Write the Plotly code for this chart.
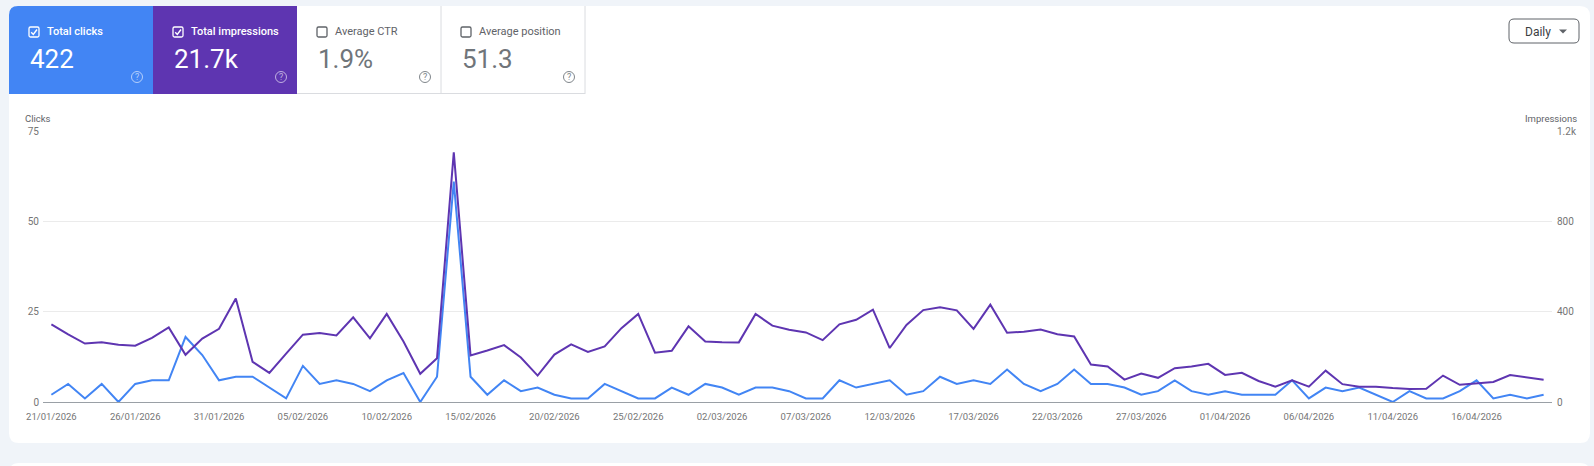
import pandas as pd
from plotly import graph_objs as go

# daily performance, 21/01/2026 .. 20/04/2026
START_DATE = "2026-01-21"
clicks = [
    2, 5, 1, 5, 0, 5, 6, 6, 18, 13, 6, 7, 7, 4, 1, 10, 5, 6, 5, 3,
    6, 8, 0, 7, 61, 7, 2, 6, 3, 4, 2, 1, 1, 5, 3, 1, 1, 4, 2, 5,
    4, 2, 4, 4, 3, 1, 1, 6, 4, 5, 6, 2, 3, 7, 5, 6, 5, 9, 5, 3,
    5, 9, 5, 5, 4, 2, 3, 6, 3, 2, 3, 2, 2, 2, 6, 1, 4, 3, 4, 2,
    0, 3, 1, 1, 3, 6, 1, 2, 1, 2,
]
impressions = [
    344, 299, 259, 265, 253, 249, 284, 330, 209, 281,
    324, 458, 178, 129, 214, 298, 305, 295, 375, 282,
    390, 268, 125, 194, 1105, 206, 228, 252, 197, 117,
    210, 255, 222, 246, 327, 390, 218, 227, 335, 268,
    265, 264, 390, 338, 320, 308, 274, 344, 364, 409,
    239, 341, 407, 419, 406, 324, 431, 307, 311, 321,
    300, 290, 166, 157, 99, 126, 107, 150, 157, 169,
    120, 129, 93, 68, 96, 68, 139, 79, 68, 68,
    62, 58, 59, 117, 76, 83, 89, 119, 110, 99,
]
dates = pd.date_range(START_DATE, periods=len(clicks), freq="D")

# summary tiles
tile_labels = ["Total clicks", "Total impressions", "Average CTR", "Average position"]
tile_values = ["422", "21.7k", "1.9%", "51.3"]
tile_checked = [True, True, False, False]

clicks_ticks = [0, 25, 50, 75]
impr_ticks = [0, 400, 800, 1200]
impr_ticktext = ["0", "400", "800", "1.2k"]

BLUE = "#4285f4"
PURPLE = "#5e35b1"
PAGE_BG = "#f0f4f9"
FONT = "Roboto, Arial, sans-serif"

# page geometry (pixels)
W, H = 1594, 466
L, R, T, B = 43, 42, 131, 64
PW = W - L - R
PH = H - T - B


def px(x):
    return (x - L) / PW


def py(y):
    return (H - B - y) / PH


def rrect(x0, y0, x1, y1, tl=0, tr=0, br=0, bl=0):
    pts = [
        f"M {px(x0 + tl)},{py(y0)}",
        f"L {px(x1 - tr)},{py(y0)}",
        f"Q {px(x1)},{py(y0)} {px(x1)},{py(y0 + tr)}",
        f"L {px(x1)},{py(y1 - br)}",
        f"Q {px(x1)},{py(y1)} {px(x1 - br)},{py(y1)}",
        f"L {px(x0 + bl)},{py(y1)}",
        f"Q {px(x0)},{py(y1)} {px(x0)},{py(y1 - bl)}",
        f"L {px(x0)},{py(y0 + tl)}",
        f"Q {px(x0)},{py(y0)} {px(x0 + tl)},{py(y0)}",
        "Z",
    ]
    return " ".join(pts)


def poly(points, close=False):
    s = "M " + " L ".join(f"{px(x)},{py(y)}" for x, y in points)
    return s + (" Z" if close else "")


def label(x, y, text, anchor="left", **font):
    return dict(x=px(x), y=py(y), xref="paper", yref="paper", text=text,
                showarrow=False, xanchor=anchor, yanchor="middle",
                font=dict(family=FONT, **font))


fig = go.Figure()

fig.add_trace(
    go.Scatter(
        x=dates, y=impressions, yaxis="y2", mode="lines",
        line=dict(color=PURPLE, width=2), name="Impressions",
    )
)
fig.add_trace(
    go.Scatter(
        x=dates, y=clicks, mode="lines",
        line=dict(color=BLUE, width=2), name="Clicks",
    )
)

shapes = []
annotations = []

# cards
shapes.append(dict(type="path", path=rrect(9, 6, 1590, 443, 10, 10, 10, 10),
                   fillcolor="white", line=dict(width=0), layer="below"))
shapes.append(dict(type="path", path=rrect(9, 463, 1590, 560, 10, 10, 0, 0),
                   fillcolor="white", line=dict(width=0), layer="below"))

# metric tiles
tile_w = 144
tile_fill = [BLUE, PURPLE, None, None]
for i, (lab, val, chk) in enumerate(zip(tile_labels, tile_values, tile_checked)):
    x0 = 9 + i * tile_w
    x1 = x0 + tile_w
    fill = tile_fill[i]
    if fill:
        shapes.append(dict(type="path", path=rrect(x0, 6, x1, 94, 9 if i == 0 else 0),
                           fillcolor=fill, line=dict(width=0), layer="below"))
        fg = "white"
        icon = "rgba(255,255,255,0.6)"
    else:
        shapes.append(dict(type="line", x0=px(x1), x1=px(x1), y0=py(6), y1=py(94),
                           line=dict(color="#dadce0", width=1)))
        fg = "#5f6368"
        icon = "#80868b"
    # checkbox
    cx = x0 + 20
    shapes.append(dict(type="path", path=rrect(cx, 27, cx + 10, 37, 1.5, 1.5, 1.5, 1.5),
                       line=dict(color=fg, width=1.3), fillcolor="rgba(0,0,0,0)"))
    if chk:
        shapes.append(dict(type="path", path=poly([(cx + 2.2, 32.2), (cx + 4.3, 34.5), (cx + 8, 29.5)]),
                           line=dict(color=fg, width=1.4)))
    annotations.append(label(cx + 16, 31.5, lab, size=11, color=fg,
                             weight=500 if fill else 400))
    annotations.append(label(cx - 1.5, 59, val, size=26,
                             color="white" if fill else "#70757a"))
    # help icon
    hx = x0 + 128
    shapes.append(dict(type="circle", x0=px(hx - 5.5), x1=px(hx + 5.5), y0=py(71.5), y1=py(82.5),
                       line=dict(color=icon, width=1), fillcolor="rgba(0,0,0,0)"))
    annotations.append(label(hx, 77.3, "?", anchor="center", size=9, color=icon))

shapes.append(dict(type="line", x0=px(297), x1=px(585), y0=py(93.5), y1=py(93.5),
                   line=dict(color="#dadce0", width=1)))

# "Daily" dropdown
shapes.append(dict(type="path", path=rrect(1509, 19, 1579, 43, 5, 5, 5, 5),
                   line=dict(color="#5f6368", width=1), fillcolor="white"))
shapes.append(dict(type="path", path=poly([(1559, 29.5), (1567, 29.5), (1563, 33.5)], close=True),
                   line=dict(width=0), fillcolor="#5f6368"))
annotations.append(label(1523, 31.5, "Daily", size=12, color="#3c4043"))

# axis titles
annotations.append(label(22.5, 118, "Clicks", size=9.5, color="#5f6368"))
annotations.append(label(1579, 118, "Impressions", anchor="right", size=9.5, color="#5f6368"))

for s in shapes:
    s.setdefault("xref", "paper")
    s.setdefault("yref", "paper")

half_day = pd.Timedelta(hours=12)
fig.update_layout(
    width=W, height=H,
    margin=dict(l=L, r=R, t=T, b=B, pad=0),
    paper_bgcolor=PAGE_BG,
    plot_bgcolor="rgba(0,0,0,0)",
    showlegend=False,
    font=dict(family=FONT, size=10, color="#757575"),
    shapes=shapes,
    annotations=annotations,
    xaxis=dict(
        range=[dates[0] - half_day, dates[-1] + half_day],
        tickvals=list(dates[::5]),
        tickformat="%d/%m/%Y",
        showgrid=False, zeroline=False,
        showline=True, linecolor="#9aa0a6", linewidth=1,
        ticks="", ticklabelstandoff=6,
        tickfont=dict(size=9.5, color="#757575"),
    ),
    yaxis=dict(
        range=[0, 75], tickvals=clicks_ticks,
        showgrid=True, gridcolor="#ebebeb", gridwidth=1,
        zeroline=False, showline=False, ticks="", ticklabelstandoff=3,
        tickfont=dict(size=10, color="#757575"),
    ),
    yaxis2=dict(
        range=[0, 1200], tickvals=impr_ticks, ticktext=impr_ticktext,
        overlaying="y", side="right",
        showgrid=False, zeroline=False, showline=False, ticks="", ticklabelstandoff=4,
        tickfont=dict(size=10, color="#757575"),
    ),
)

# drop the default 8px body margin so the figure sits at the page origin
fig.write_html(
    "out.html",
    config={"displayModeBar": False},
    post_script="document.body.style.margin='0';",
)
